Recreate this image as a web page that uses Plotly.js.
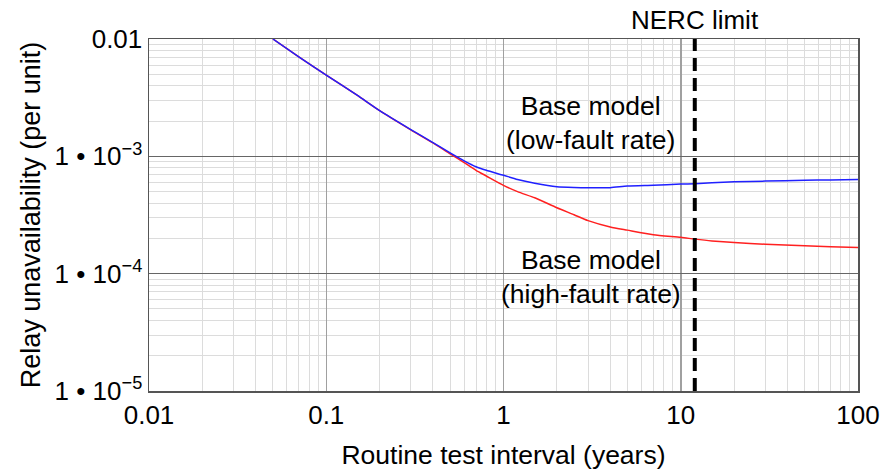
<!DOCTYPE html>
<html>
<head>
<meta charset="utf-8">
<script src="https://cdn.plot.ly/plotly-3.0.1.min.js"></script>
<style>html,body{margin:0;padding:0;background:#fff;}#chart{width:881px;height:474px;}</style>
</head>
<body>
<div id="chart"></div>
<script>
// Routine test interval (years)
const intervalYears = [0.05, 0.07, 0.1, 0.15, 0.2, 0.3, 0.4, 0.5, 0.6, 0.7, 0.8, 1, 1.2, 1.5, 2, 2.5, 3, 4, 5, 7, 10, 12, 15, 20, 30, 50, 70, 100];
// Base model, low-fault rate (blue)
const lowFault = [1.0e-2, 7.05e-3, 4.93e-3, 3.30e-3, 2.45e-3, 1.69e-3, 1.31e-3, 1.07e-3, 9.15e-4, 8.15e-4, 7.6e-4, 6.9e-4, 6.35e-4, 5.9e-4, 5.5e-4, 5.42e-4, 5.4e-4, 5.4e-4, 5.58e-4, 5.67e-4, 5.8e-4, 5.85e-4, 5.95e-4, 6.06e-4, 6.15e-4, 6.25e-4, 6.3e-4, 6.35e-4];
// Base model, high-fault rate (red)
const highFault = [1.0e-2, 7.05e-3, 4.93e-3, 3.30e-3, 2.45e-3, 1.68e-3, 1.30e-3, 1.05e-3, 8.85e-4, 7.6e-4, 6.8e-4, 5.66e-4, 5.0e-4, 4.43e-4, 3.65e-4, 3.18e-4, 2.83e-4, 2.5e-4, 2.35e-4, 2.15e-4, 2.04e-4, 1.97e-4, 1.9e-4, 1.84e-4, 1.78e-4, 1.73e-4, 1.7e-4, 1.67e-4];
const nercLimit = 12;
const xTickVals = [0.01, 0.1, 1, 10, 100];
const xTickText = ['0.01', '0.1', '1', '10', '100'];
const yTickVals = [1e-5, 1e-4, 1e-3, 1e-2];
const yTickText = ['1 \u2022 10<sup>\u22125</sup>', '1 \u2022 10<sup>\u22124</sup>', '1 \u2022 10<sup>\u22123</sup>', '0.01'];

const font = 'Liberation Sans, Arial, sans-serif';

const traces = [
  {x: intervalYears, y: highFault, type: 'scatter', mode: 'lines', line: {color: '#ff2020', width: 1.5, shape: 'spline', smoothing: 0.6}, name: 'high-fault', hoverinfo: 'skip'},
  {x: intervalYears, y: lowFault, type: 'scatter', mode: 'lines', line: {color: '#2020ff', width: 1.5, shape: 'spline', smoothing: 0.6}, name: 'low-fault', hoverinfo: 'skip'}
];

const layout = {
  width: 881, height: 474,
  margin: {l: 149, r: 23, t: 39, b: 83},
  paper_bgcolor: '#fff', plot_bgcolor: '#fff',
  showlegend: false,
  font: {family: font, size: 26, color: '#000'},
  xaxis: {
    type: 'log', range: [-2, 2],
    tickvals: xTickVals, ticktext: xTickText,
    showgrid: true, gridcolor: '#a0a0a0', gridwidth: 1.5,
    minor: {showgrid: true, gridcolor: '#dcdcdc', gridwidth: 1, dtick: 'D1'},
    showline: true, mirror: true, linecolor: '#555', linewidth: 1.5,
    ticks: '', zeroline: false,
    tickfont: {family: font, size: 26},
    title: {text: 'Routine test interval (years)', font: {family: font, size: 26.5}, standoff: 16}
  },
  yaxis: {
    type: 'log', range: [-5, -2],
    tickvals: yTickVals, ticktext: yTickText,
    showgrid: true, gridcolor: '#666', gridwidth: 1,
    minor: {showgrid: true, gridcolor: '#dcdcdc', gridwidth: 1, dtick: 'D1'},
    showline: true, mirror: true, linecolor: '#555', linewidth: 1.5,
    ticks: '', zeroline: false,
    tickfont: {family: font, size: 26},
    title: {text: 'Relay unavailability (per unit)', font: {family: font, size: 27}, standoff: 6}
  },
  shapes: [
    {type: 'line', xref: 'x', yref: 'paper', x0: nercLimit, x1: nercLimit, y0: 0, y1: 1,
     line: {color: '#000', width: 4, dash: '13px,7px'}}
  ],
  annotations: [
    {xref: 'x', yref: 'paper', x: Math.log10(nercLimit), y: 1, yshift: 2, yanchor: 'bottom', showarrow: false,
     text: 'NERC limit', font: {family: font, size: 26}},
    {xref: 'x', yref: 'y', x: Math.log10(3.1), y: Math.log10(1.92e-3), showarrow: false,
     text: 'Base model<br>(low-fault rate)', font: {family: font, size: 26.5}},
    {xref: 'x', yref: 'y', x: Math.log10(3.1), y: Math.log10(9.3e-5), showarrow: false,
     text: 'Base model<br>(high-fault rate)', font: {family: font, size: 26.5}}
  ]
};

Plotly.newPlot('chart', traces, layout, {staticPlot: true, displayModeBar: false});
</script>
</body>
</html>
